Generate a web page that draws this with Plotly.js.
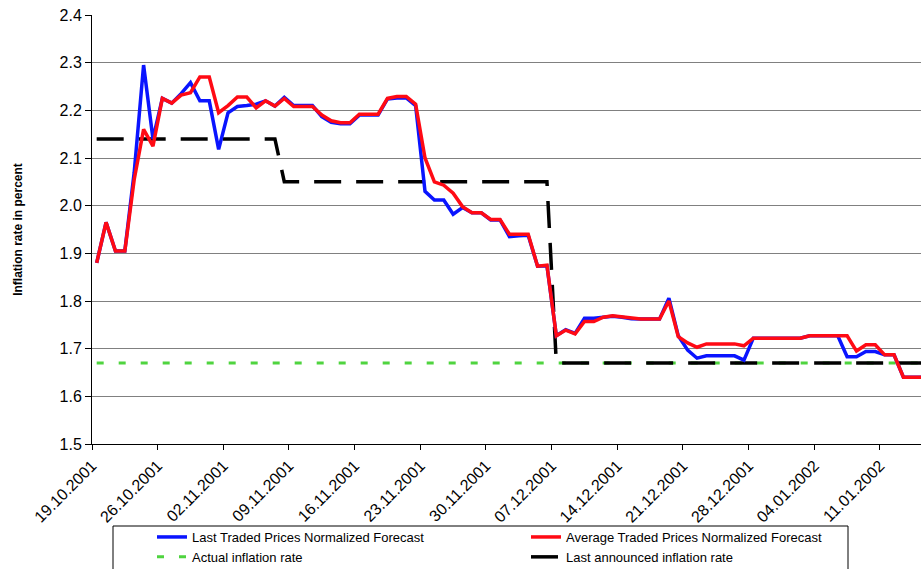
<!DOCTYPE html>
<html>
<head>
<meta charset="utf-8">
<script src="https://cdn.plot.ly/plotly-3.0.1.min.js"></script>
<style>
html,body{margin:0;padding:0;background:#fff;}
#chart{width:921px;height:569px;}
</style>
</head>
<body>
<div id="chart"></div>
<script>
const dates = [
'2001-10-19','2001-10-20','2001-10-21','2001-10-22','2001-10-23','2001-10-24','2001-10-25','2001-10-26','2001-10-27','2001-10-28',
'2001-10-29','2001-10-30','2001-10-31','2001-11-01','2001-11-02','2001-11-03','2001-11-04','2001-11-05','2001-11-06','2001-11-07',
'2001-11-08','2001-11-09','2001-11-10','2001-11-11','2001-11-12','2001-11-13','2001-11-14','2001-11-15','2001-11-16','2001-11-17',
'2001-11-18','2001-11-19','2001-11-20','2001-11-21','2001-11-22','2001-11-23','2001-11-24','2001-11-25','2001-11-26','2001-11-27',
'2001-11-28','2001-11-29','2001-11-30','2001-12-01','2001-12-02','2001-12-03','2001-12-04','2001-12-05','2001-12-06','2001-12-07',
'2001-12-08','2001-12-09','2001-12-10','2001-12-11','2001-12-12','2001-12-13','2001-12-14','2001-12-15','2001-12-16','2001-12-17',
'2001-12-18','2001-12-19','2001-12-20','2001-12-21','2001-12-22','2001-12-23','2001-12-24','2001-12-25','2001-12-26','2001-12-27',
'2001-12-28','2001-12-29','2001-12-30','2001-12-31','2002-01-01','2002-01-02','2002-01-03','2002-01-04','2002-01-05','2002-01-06',
'2002-01-07','2002-01-08','2002-01-09','2002-01-10','2002-01-11','2002-01-12','2002-01-13','2002-01-14','2002-01-15'
];

const lastTraded = [
1.88,1.965,1.905,1.905,2.07,2.295,2.14,2.225,2.215,2.235,
2.258,2.22,2.22,2.118,2.195,2.208,2.21,2.213,2.22,2.209,
2.227,2.21,2.21,2.21,2.187,2.175,2.172,2.172,2.19,2.19,
2.19,2.224,2.226,2.226,2.21,2.03,2.012,2.012,1.982,1.996,
1.985,1.985,1.97,1.97,1.935,1.937,1.938,1.873,1.874,1.727,
1.74,1.732,1.764,1.764,1.766,1.768,1.766,1.763,1.762,1.762,
1.762,1.806,1.727,1.697,1.68,1.685,1.685,1.685,1.685,1.676,
1.722,1.722,1.722,1.722,1.722,1.722,1.727,1.727,1.727,1.727,
1.683,1.683,1.694,1.694,1.687,1.687,1.64,1.64,1.64
];

const averageTraded = [
1.88,1.965,1.905,1.905,2.055,2.16,2.125,2.225,2.215,2.232,
2.237,2.27,2.27,2.195,2.21,2.228,2.228,2.205,2.22,2.209,
2.225,2.208,2.208,2.208,2.19,2.178,2.174,2.174,2.192,2.192,
2.192,2.225,2.229,2.229,2.213,2.1,2.05,2.043,2.026,1.998,
1.985,1.985,1.971,1.971,1.94,1.94,1.94,1.873,1.875,1.727,
1.739,1.731,1.757,1.757,1.766,1.769,1.767,1.764,1.762,1.762,
1.762,1.8,1.725,1.712,1.703,1.71,1.71,1.71,1.71,1.706,
1.722,1.722,1.722,1.722,1.722,1.722,1.727,1.727,1.727,1.727,
1.727,1.695,1.708,1.708,1.687,1.687,1.64,1.64,1.64
];

const actualInflation = [
1.67,1.67,1.67,1.67,1.67,1.67,1.67,1.67,1.67,1.67,
1.67,1.67,1.67,1.67,1.67,1.67,1.67,1.67,1.67,1.67,
1.67,1.67,1.67,1.67,1.67,1.67,1.67,1.67,1.67,1.67,
1.67,1.67,1.67,1.67,1.67,1.67,1.67,1.67,1.67,1.67,
1.67,1.67,1.67,1.67,1.67,1.67,1.67,1.67,1.67,1.67,
1.67,1.67,1.67,1.67,1.67,1.67,1.67,1.67,1.67,1.67,
1.67,1.67,1.67,1.67,1.67,1.67,1.67,1.67,1.67,1.67,
1.67,1.67,1.67,1.67,1.67,1.67,1.67,1.67,1.67,1.67,
1.67,1.67,1.67,1.67,1.67,1.67,1.67,1.67,1.67
];

const lastAnnounced = [
2.14,2.14,2.14,2.14,2.14,2.14,2.14,2.14,2.14,2.14,
2.14,2.14,2.14,2.14,2.14,2.14,2.14,2.14,2.14,2.14,
2.05,2.05,2.05,2.05,2.05,2.05,2.05,2.05,2.05,2.05,
2.05,2.05,2.05,2.05,2.05,2.05,2.05,2.05,2.05,2.05,
2.05,2.05,2.05,2.05,2.05,2.05,2.05,2.05,2.05,1.67,
1.67,1.67,1.67,1.67,1.67,1.67,1.67,1.67,1.67,1.67,
1.67,1.67,1.67,1.67,1.67,1.67,1.67,1.67,1.67,1.67,
1.67,1.67,1.67,1.67,1.67,1.67,1.67,1.67,1.67,1.67,
1.67,1.67,1.67,1.67,1.67,1.67,1.67,1.67,1.67
];

const seriesNames = [
'Last Traded Prices Normalized Forecast',
'Average Traded Prices Normalized Forecast',
'Actual inflation rate',
'Last announced inflation rate'
];

const DAY = 86400000;
const common = {x: dates, type: 'scatter', mode: 'lines', xperiod: DAY, xperiodalignment: 'middle', hoverinfo: 'skip'};

const traces = [
  Object.assign({}, common, {y: actualInflation, name: seriesNames[2], legendrank: 3,
    line: {color: '#4fd43f', width: 3, dash: '7px,15px'}}),
  Object.assign({}, common, {y: lastAnnounced, name: seriesNames[3], legendrank: 4,
    line: {color: '#000000', width: 3.5, dash: '27px,15px'}}),
  Object.assign({}, common, {y: lastTraded, name: seriesNames[0], legendrank: 1,
    line: {color: '#0a14ff', width: 3.5}}),
  Object.assign({}, common, {y: averageTraded, name: seriesNames[1], legendrank: 2,
    line: {color: '#ff0a14', width: 3.5}})
];

const plotL = 92, plotR = 921, plotT = 15, plotB = 444;
const pw = plotR - plotL, ph = plotB - plotT;
const px2x = v => (v - plotL) / pw;
const py2y = v => (plotB - v) / ph;

const layout = {
  width: 921, height: 569,
  margin: {l: plotL, r: 921 - plotR, t: plotT, b: 569 - plotB, pad: 0, autoexpand: false},
  paper_bgcolor: '#ffffff', plot_bgcolor: '#ffffff',
  font: {family: 'Liberation Sans, Arial, sans-serif', color: '#000'},
  showlegend: true,
  xaxis: {
    type: 'date',
    range: ['2001-10-19 00:00', '2002-01-15 09:00'],
    tick0: '2001-10-19', dtick: 7 * DAY,
    tickformat: '%d.%m.%Y', tickangle: -45,
    ticks: 'outside', ticklen: 5, tickcolor: '#000',
    showline: true, linecolor: '#000', linewidth: 1,
    showgrid: false, zeroline: false, automargin: false,
    tickfont: {size: 16, color: '#000'}
  },
  yaxis: {
    range: [1.5, 2.4], dtick: 0.1, tick0: 1.5, tickformat: '.1f',
    ticks: 'outside', ticklen: 6, tickcolor: '#000',
    showline: true, linecolor: '#000', linewidth: 1, automargin: false,
    showgrid: true, gridcolor: '#808080', gridwidth: 1, zeroline: false,
    tickfont: {size: 16, color: '#000'},
    title: {text: 'Inflation rate in percent', font: {size: 12, color: '#000', family: 'Liberation Sans, Arial, sans-serif', weight: 'bold'}, standoff: 34}
  },
  legend: {
    orientation: 'h',
    x: px2x(152), xanchor: 'left',
    y: py2y(522), yanchor: 'top',
    entrywidth: 329, entrywidthmode: 'pixels',
    font: {size: 13, color: '#000'},
    bgcolor: 'rgba(0,0,0,0)', borderwidth: 0,
    traceorder: 'normal'
  },
  shapes: [{
    type: 'rect', xref: 'paper', yref: 'paper',
    x0: px2x(113), x1: px2x(848), y0: py2y(526), y1: py2y(580),
    line: {color: '#000', width: 1}, fillcolor: 'rgba(0,0,0,0)', layer: 'above'
  }]
};

Plotly.newPlot('chart', traces, layout, {staticPlot: true, displayModeBar: false});
</script>
</body>
</html>
